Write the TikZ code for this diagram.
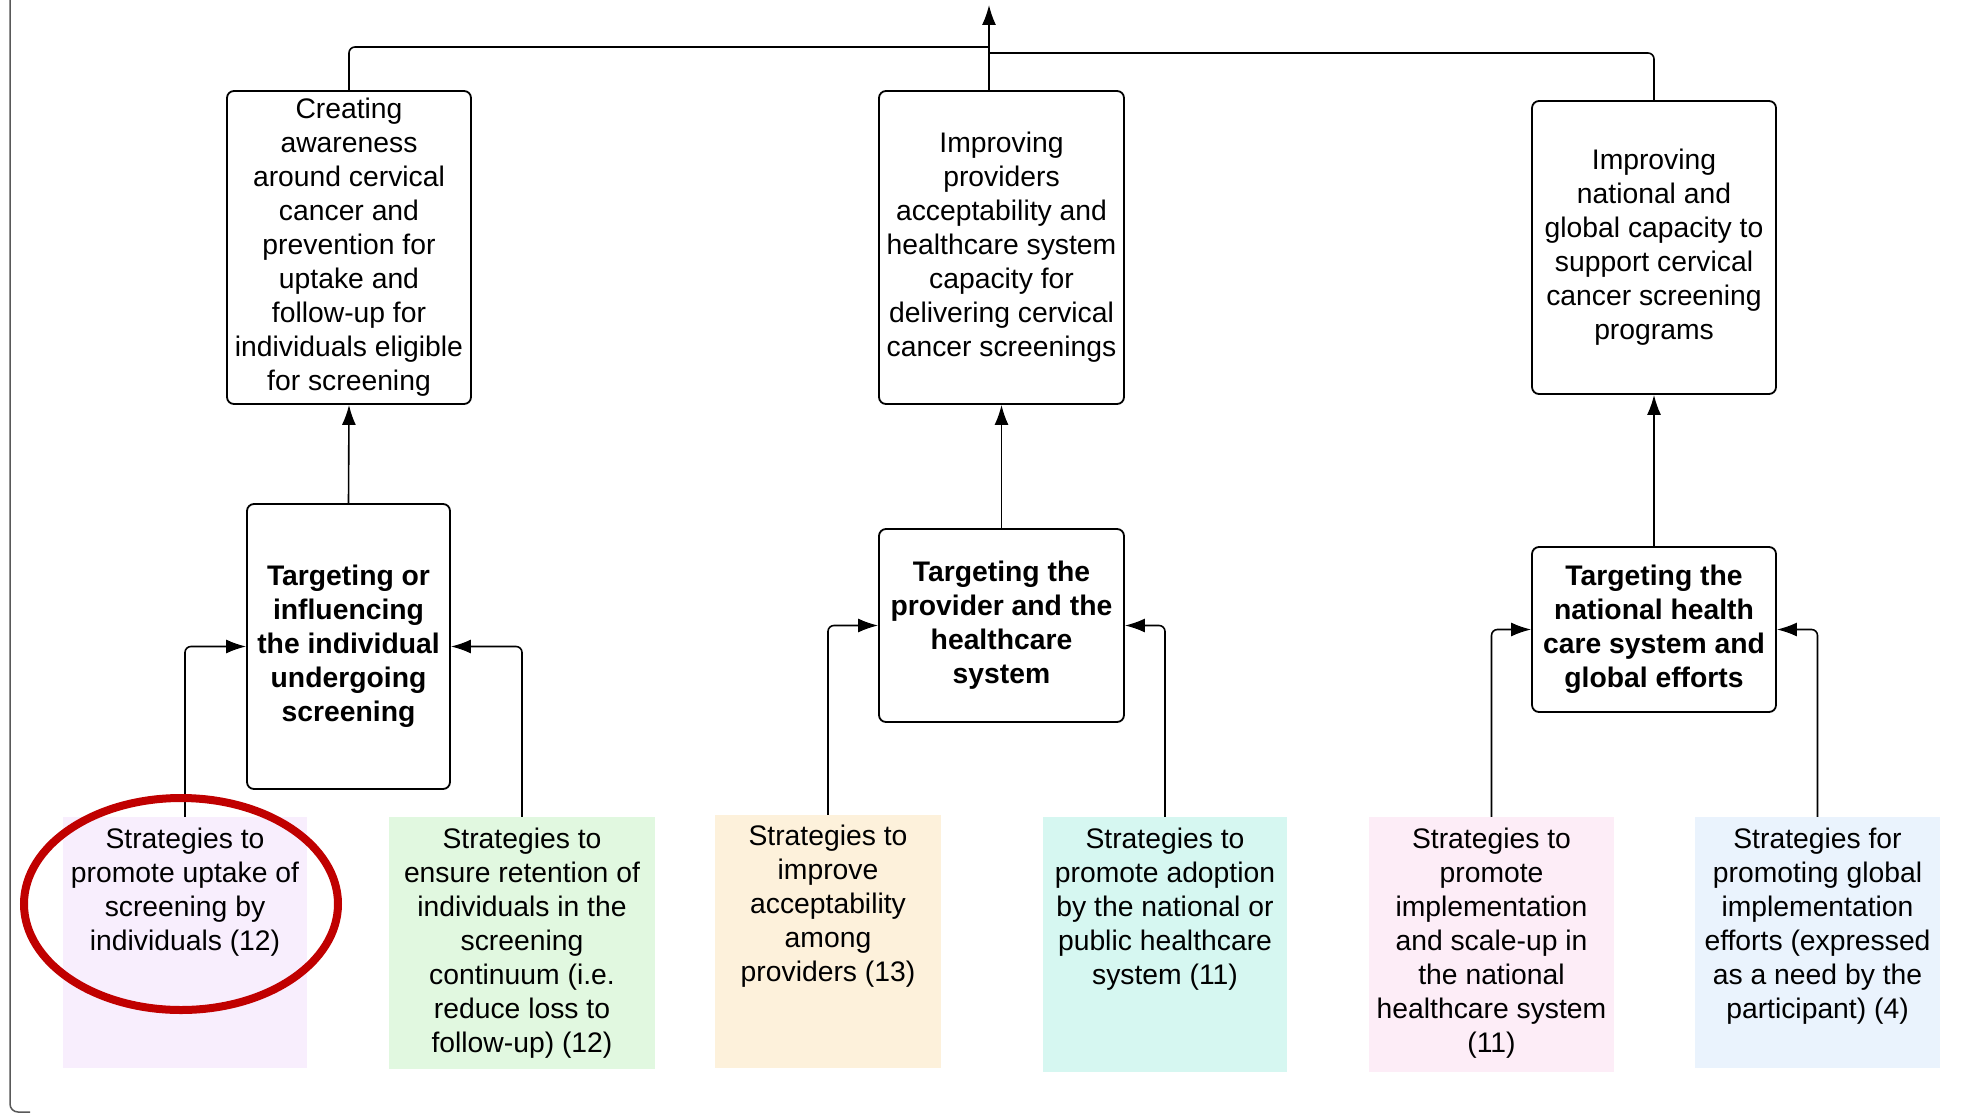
\documentclass[tikz,border=0pt]{standalone}
\usepackage{fontspec}
\setmainfont{Liberation Sans}
\usetikzlibrary{arrows.meta}
\definecolor{cLav}{HTML}{F8EEFD}
\definecolor{cGreen}{HTML}{E1F8E0}
\definecolor{cYellow}{HTML}{FDF1DB}
\definecolor{cCyan}{HTML}{D6F7F1}
\definecolor{cPink}{HTML}{FDEDF7}
\definecolor{cBlue}{HTML}{EAF3FD}
\definecolor{cRed}{HTML}{C00000}
\tikzset{
  box/.style={draw=black, line width=1.8pt, rounded corners=7pt, inner sep=0pt, align=center,
    font=\fontsize{28.3}{34}\selectfont},
  bbox/.style={box, font=\fontsize{28.3}{34}\selectfont\bfseries},
  stratbox/.style={draw=none, inner sep=0pt},
  txt/.style={align=center, inner sep=0pt, anchor=north, font=\fontsize{28.3}{34}\selectfont},
  conn/.style={draw=black, line width=1.6pt, rounded corners=6pt},
  arr/.style={conn, -{Latex[length=20pt,width=14pt]}},
}
\begin{document}
\begin{tikzpicture}[x=1pt,y=-1pt]
\useasboundingbox (0,0) rectangle (1975,1116);
\fill[white] (0,0) rectangle (1975,1116);
% left frame line
\draw[gray!70!black, line width=1.5pt, rounded corners=8pt] (10,-5) -- (10,1112) -- (30,1112);

% top boxes
\node[box, minimum width=244pt, minimum height=313pt] (A) at (349,247.5)
  {Creating\\awareness\\around cervical\\cancer and\\prevention for\\uptake and\\follow-up for\\individuals eligible\\for screening};
\node[box, minimum width=245pt, minimum height=313pt] (B) at (1001.5,247.5)
  {Improving\\providers\\acceptability and\\healthcare system\\capacity for\\delivering cervical\\cancer screenings};
\node[box, minimum width=244pt, minimum height=293pt] (C) at (1654,247.5)
  {Improving\\national and\\global capacity to\\support cervical\\cancer screening\\programs};

% middle boxes
\node[bbox, minimum width=203pt, minimum height=285pt] (D) at (348.5,646.5)
  {Targeting or\\influencing\\the individual\\undergoing\\screening};
\node[bbox, minimum width=245pt, minimum height=193pt] (E) at (1001.5,625.5)
  {Targeting the\\provider and the\\healthcare\\system};
\node[bbox, minimum width=244pt, minimum height=165pt] (F) at (1654,629.5)
  {Targeting the\\national health\\care system and\\global efforts};

% bottom strategy boxes
\node[stratbox, fill=cLav, minimum width=244pt, minimum height=251pt] (s1) at (185,942.5) {};
\node[stratbox, fill=cGreen, minimum width=266pt, minimum height=252pt] (s2) at (522,943) {};
\node[stratbox, fill=cYellow, minimum width=226pt, minimum height=253pt] (s3) at (828,941.5) {};
\node[stratbox, fill=cCyan, minimum width=244pt, minimum height=255pt] (s4) at (1165,944.5) {};
\node[stratbox, fill=cPink, minimum width=245pt, minimum height=255pt] (s5) at (1491.5,944.5) {};
\node[stratbox, fill=cBlue, minimum width=245pt, minimum height=251pt] (s6) at (1817.5,942.5) {};

\node[txt] (t1) at ([yshift=-11pt]s1.north) {Strategies to\\promote uptake of\\screening by\\individuals (12)};
\node[txt] (t2) at ([yshift=-11pt]s2.north) {Strategies to\\ensure retention of\\individuals in the\\screening\\continuum (i.e.\\reduce loss to\\follow-up) (12)};
\node[txt] (t3) at ([yshift=-10pt]s3.north) {Strategies to\\improve\\acceptability\\among\\providers (13)};
\node[txt] (t4) at ([yshift=-11pt]s4.north) {Strategies to\\promote adoption\\by the national or\\public healthcare\\system (11)};
\node[txt] (t5) at ([yshift=-11pt]s5.north) {Strategies to\\promote\\implementation\\and scale-up in\\the national\\healthcare system\\(11)};
\node[txt] (t6) at ([yshift=-11pt]s6.north) {Strategies for\\promoting global\\implementation\\efforts (expressed\\as a need by the\\participant) (4)};

% connectors bottom -> middle
\draw[arr] (s1.north) |- (D.west);
\draw[arr] (s2.north) |- (D.east);
\draw[arr] (s3.north) |- (E.west);
\draw[arr] (s4.north) |- (E.east);
\draw[arr] (s5.north) |- (F.west);
\draw[arr] (s6.north) |- (F.east);

% middle -> top
\draw[arr] (D.north) -- (A.south);
\draw[arr] (E.north) -- (B.south);
\draw[arr] (F.north) -- (C.south);

% top tree
\coordinate (apex) at (989,5);
\coordinate (jA) at (989,47);
\coordinate (jC) at (989,53);
\draw[conn] (A.north) |- (jA);
\draw[conn] (C.north) |- (jC);
\draw[arr] (B.north -| apex) -- (apex);

% highlight ellipse
\draw[cRed, line width=8pt] (181,904) ellipse [x radius=157pt, y radius=106pt];
\end{tikzpicture}
\end{document}
